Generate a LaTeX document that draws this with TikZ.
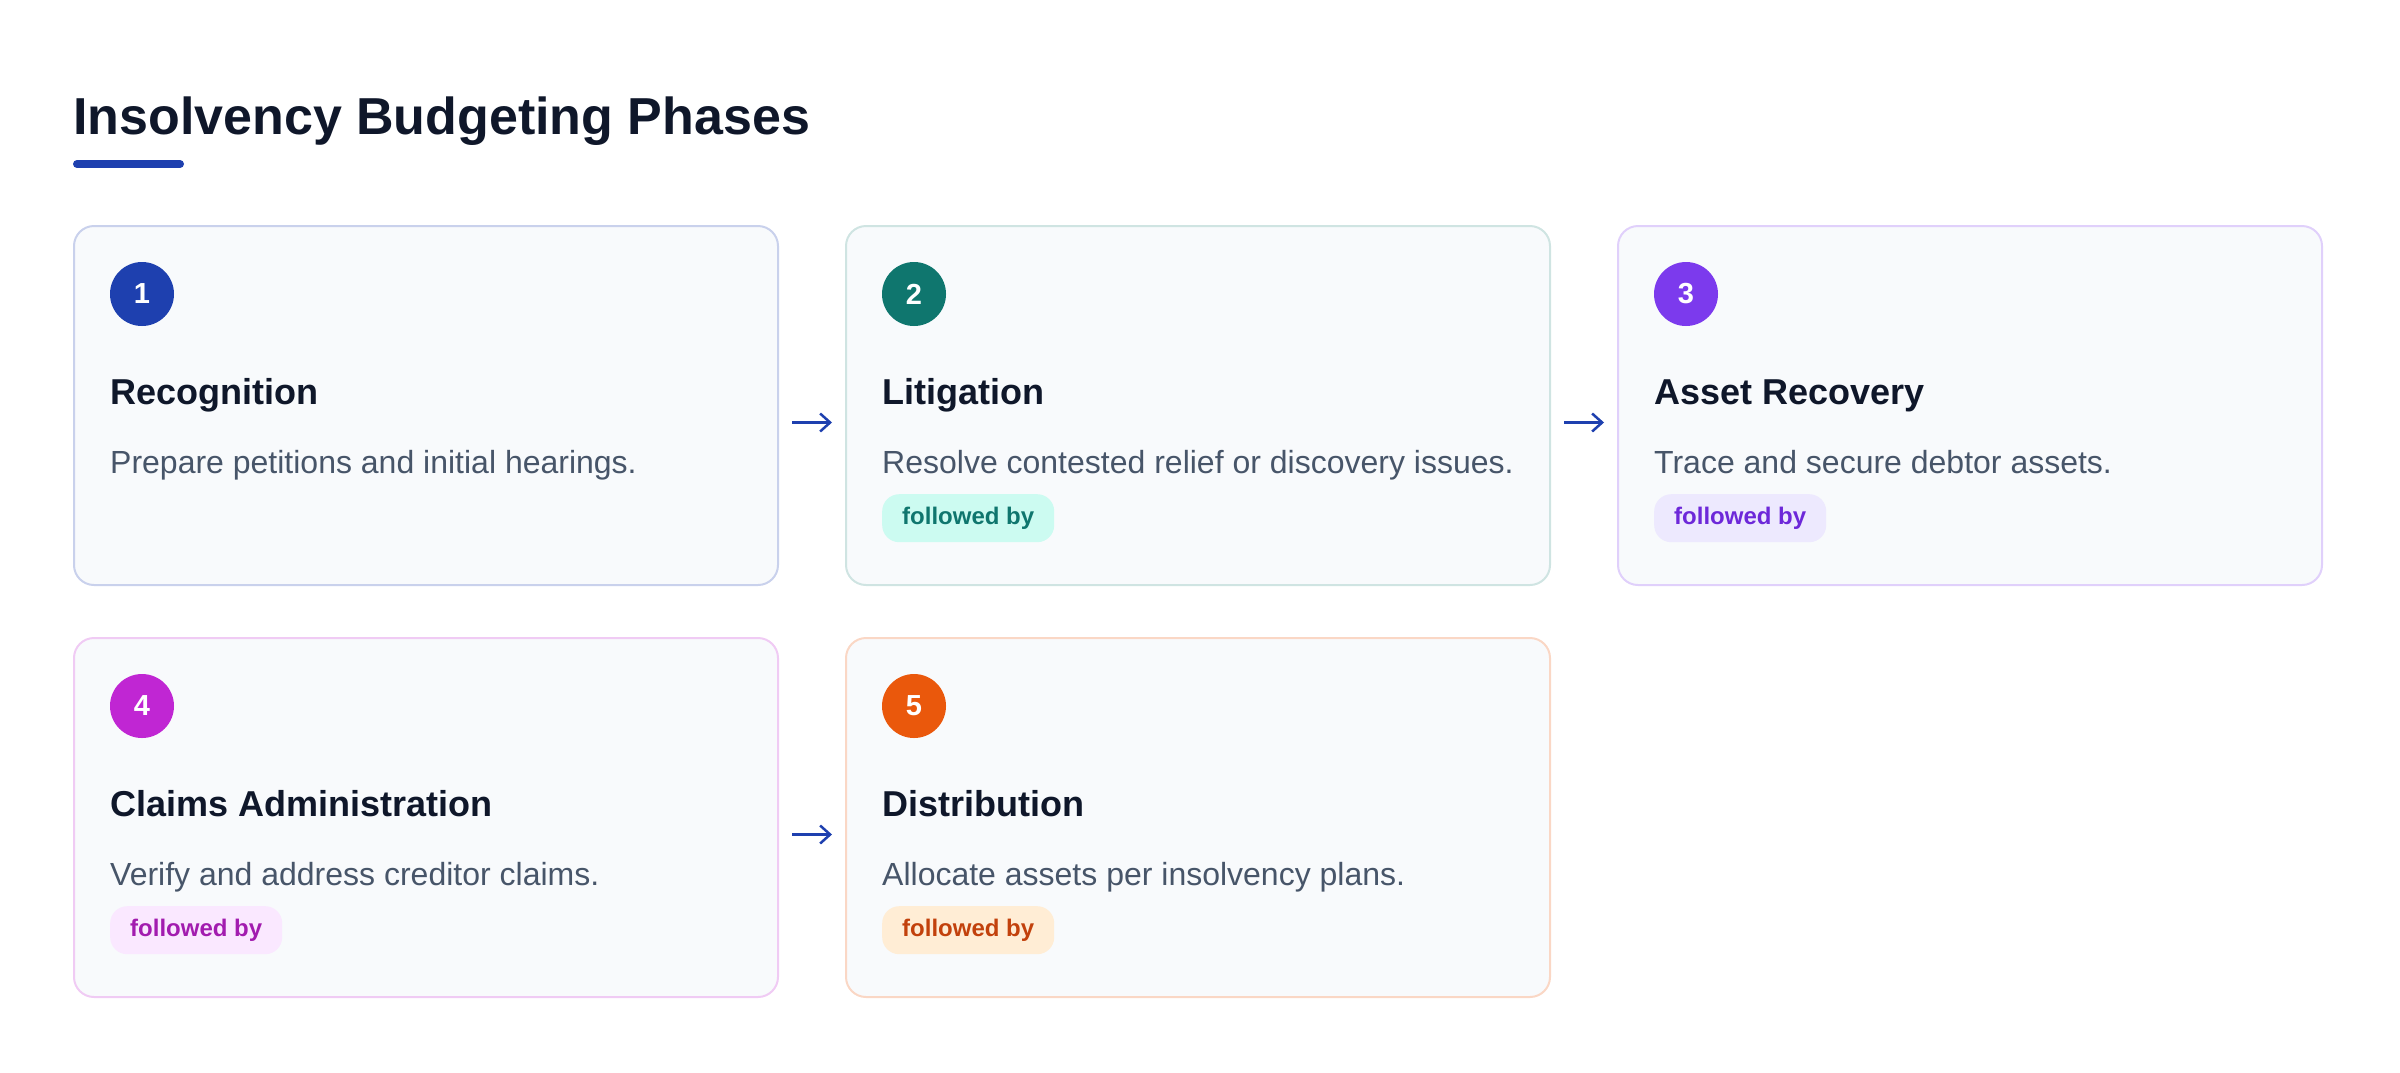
\documentclass[tikz,border=0pt]{standalone}
\usepackage{fontspec}
\setmainfont{Liberation Sans}
\usetikzlibrary{positioning,arrows.meta}

\definecolor{ink}{HTML}{0F172A}
\definecolor{slate}{HTML}{475569}
\definecolor{cardbg}{HTML}{F8FAFC}
\definecolor{accA}{HTML}{1E40AF}
\definecolor{accB}{HTML}{0F766E}
\definecolor{accC}{HTML}{7C3AED}
\definecolor{accD}{HTML}{C026D3}
\definecolor{accE}{HTML}{EA580C}
\definecolor{tagB}{HTML}{CCFBF1}
\definecolor{tagC}{HTML}{EDE9FE}
\definecolor{tagD}{HTML}{FAE8FF}
\definecolor{tagE}{HTML}{FFEDD5}
\definecolor{txtC}{HTML}{6D28D9}
\definecolor{txtD}{HTML}{A21CAF}
\definecolor{txtE}{HTML}{C2410C}

\begin{document}
\begin{tikzpicture}[x=1pt,y=-1pt]
        \tikzstyle{card} = [draw, line width=2pt, fill=cardbg, rounded corners=20pt, minimum width=704pt, minimum height=359pt, inner sep=0pt]
        \tikzstyle{num} = [circle, minimum size=64pt, inner sep=0pt, text=white, font=\fontsize{29}{34}\selectfont\bfseries]
        \tikzstyle{head} = [anchor=base west, inner sep=0pt, text=ink, font=\fontsize{36}{42}\selectfont\bfseries]
        \tikzstyle{desc} = [anchor=base west, inner sep=0pt, text=slate, font=\fontsize{32}{38}\selectfont]
        \tikzstyle{tag} = [anchor=north west, rounded corners=17pt, minimum height=48pt, inner xsep=20pt, inner ysep=0pt, font=\fontsize{24}{28}\selectfont\bfseries]
        \tikzstyle{flow} = [draw=accA, line width=2.5pt, shorten <=13pt, shorten >=13pt, -{Straight Barb[length=10pt,width=18pt,line width=2.5pt]}]

		\useasboundingbox (0,0) rectangle (2400,1072);

		% heading
		\node[anchor=base west, inner sep=0pt, text=ink, font=\fontsize{52}{62}\selectfont\bfseries] (title) at (73,134) {Insolvency Budgeting Phases};
		\draw[accA, line width=8pt, line cap=round] (77,164) -- (180,164);

		% cards
		\node[card, draw=accA!24, anchor=north west] (c1) at (73,225) {};
		\node[card, draw=accB!20, right=66pt of c1] (c2) {};
		\node[card, draw=accC!24, right=66pt of c2] (c3) {};
		\node[card, draw=accD!24, below=51pt of c1] (c4) {};
		\node[card, draw=accE!24, below=51pt of c2] (c5) {};

		% card 1
		\node[num, fill=accA] (n1) at ([xshift=69pt,yshift=-69pt]c1.north west) {1};
		\node[head] (h1) at ([xshift=37pt,yshift=-179pt]c1.north west) {Recognition};
		\node[desc] (d1) at ([xshift=37pt,yshift=-248pt]c1.north west) {Prepare petitions and initial hearings.};

		% card 2
		\node[num, fill=accB] (n2) at ([xshift=69pt,yshift=-69pt]c2.north west) {2};
		\node[head] (h2) at ([xshift=37pt,yshift=-179pt]c2.north west) {Litigation};
		\node[desc] (d2) at ([xshift=37pt,yshift=-248pt]c2.north west) {Resolve contested relief or discovery issues.};
		\node[tag, fill=tagB, text=accB] (t2) at ([xshift=37pt,yshift=-269pt]c2.north west) {followed by};

		% card 3
		\node[num, fill=accC] (n3) at ([xshift=69pt,yshift=-69pt]c3.north west) {3};
		\node[head] (h3) at ([xshift=37pt,yshift=-179pt]c3.north west) {Asset Recovery};
		\node[desc] (d3) at ([xshift=37pt,yshift=-248pt]c3.north west) {Trace and secure debtor assets.};
		\node[tag, fill=tagC, text=txtC] (t3) at ([xshift=37pt,yshift=-269pt]c3.north west) {followed by};

		% card 4
		\node[num, fill=accD] (n4) at ([xshift=69pt,yshift=-69pt]c4.north west) {4};
		\node[head] (h4) at ([xshift=37pt,yshift=-179pt]c4.north west) {Claims Administration};
		\node[desc] (d4) at ([xshift=37pt,yshift=-248pt]c4.north west) {Verify and address creditor claims.};
		\node[tag, fill=tagD, text=txtD] (t4) at ([xshift=37pt,yshift=-269pt]c4.north west) {followed by};

		% card 5
		\node[num, fill=accE] (n5) at ([xshift=69pt,yshift=-69pt]c5.north west) {5};
		\node[head] (h5) at ([xshift=37pt,yshift=-179pt]c5.north west) {Distribution};
		\node[desc] (d5) at ([xshift=37pt,yshift=-248pt]c5.north west) {Allocate assets per insolvency plans.};
		\node[tag, fill=tagE, text=txtE] (t5) at ([xshift=37pt,yshift=-269pt]c5.north west) {followed by};

		% arrows
		\draw[flow] ([yshift=-17pt]c1.east) -- ([yshift=-17pt]c2.west);
		\draw[flow] ([yshift=-17pt]c2.east) -- ([yshift=-17pt]c3.west);
		\draw[flow] ([yshift=-17pt]c4.east) -- ([yshift=-17pt]c5.west);

    \end{tikzpicture}
\end{document}
